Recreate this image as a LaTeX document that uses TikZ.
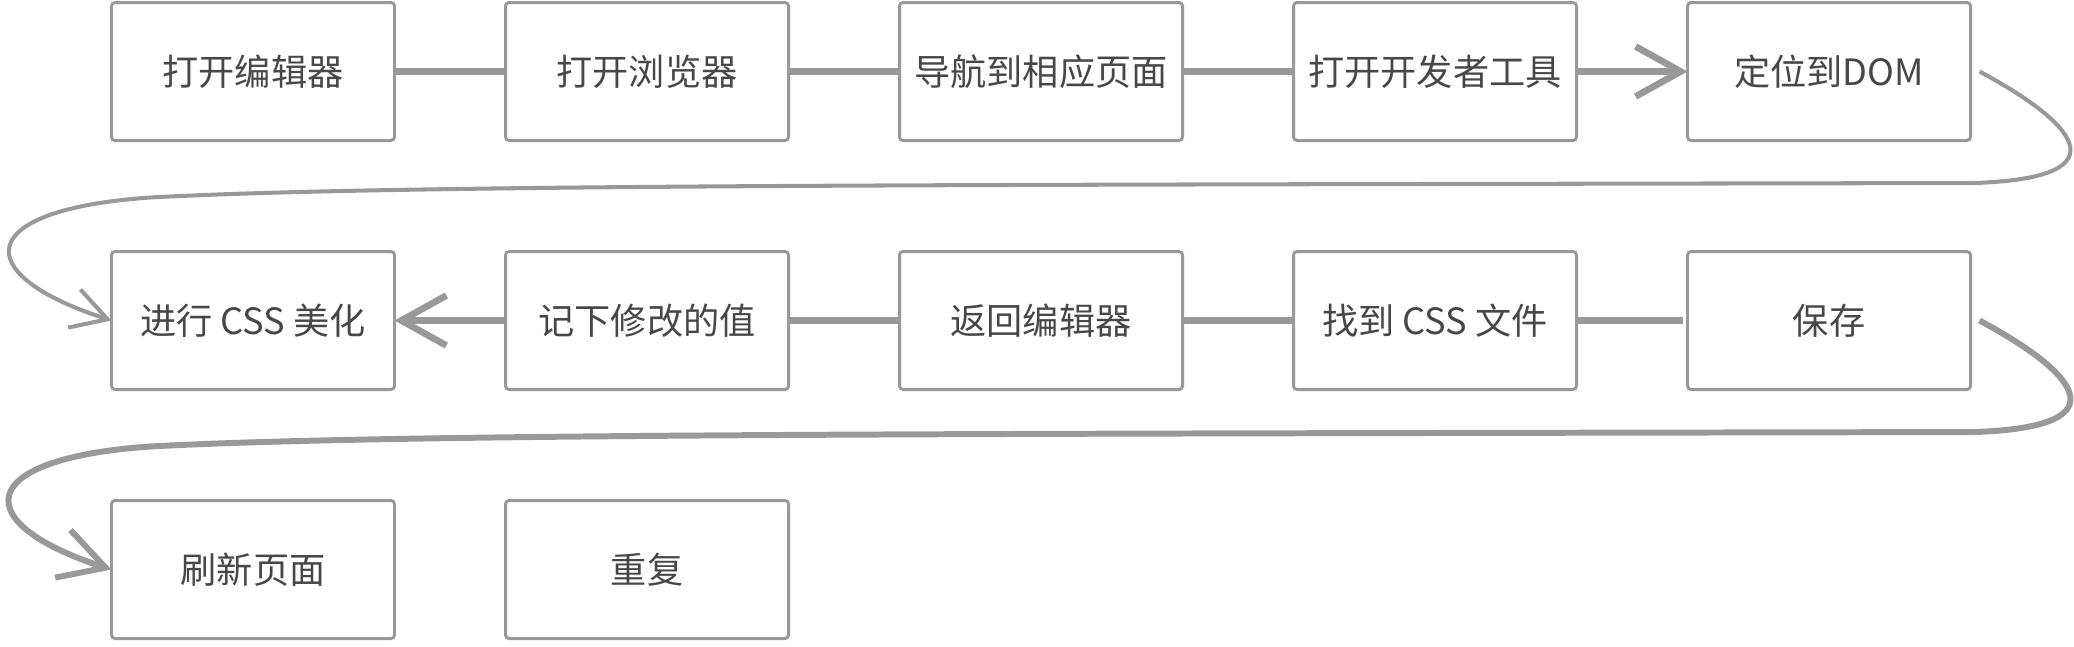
\documentclass[tikz,border=0pt]{standalone}
\usepackage{fontspec}
\setmainfont{Noto Sans CJK SC}
\usepackage{xcolor}
\usetikzlibrary{positioning, arrows.meta}
\definecolor{linegray}{HTML}{999999}
\definecolor{textgray}{HTML}{474747}

\begin{document}
\begin{tikzpicture}[
  stepbox/.style={draw=linegray, line width=1.7pt, rounded corners=2pt, minimum width=5.66cm, minimum height=2.76cm, inner sep=0pt, outer sep=0pt, align=center, font=\fontsize{20.6}{24}\selectfont, text=textgray},
  link/.style={draw=linegray, line width=3.8pt},
  arr/.style={link, -{Straight Barb[length=0.9cm, width=1cm]}},
  loopback/.style={draw=linegray, -{Straight Barb[length=0.7cm, width=0.8cm]}},
  node distance=2.22cm
]
  \useasboundingbox (0,0) rectangle (41.48,-12.92);

  % first row
  \node[stepbox, anchor=north west] (editor) at (2.23,-0.05) {打开编辑器};
  \node[stepbox, right=of editor] (browser) {打开浏览器};
  \node[stepbox, right=of browser] (navigate) {导航到相应页面};
  \node[stepbox, right=of navigate] (devtools) {打开开发者工具};
  \node[stepbox, right=of devtools] (dom) {定位到DOM};

  % second row
  \node[stepbox, below=of editor] (beautify) {进行 CSS 美化};
  \node[stepbox, right=of beautify] (record) {记下修改的值};
  \node[stepbox, right=of record] (back) {返回编辑器};
  \node[stepbox, right=of back] (cssfile) {找到 CSS 文件};
  \node[stepbox, right=of cssfile] (save) {保存};

  % third row
  \node[stepbox, below=of beautify] (refresh) {刷新页面};
  \node[stepbox, right=of refresh] (again) {重复};

  \draw[link] (editor) -- (browser);
  \draw[link] (browser) -- (navigate);
  \draw[link] (navigate) -- (devtools);
  \draw[arr] (devtools) -- (dom);

  \draw[arr] (record) -- (beautify);
  \draw[link] (record) -- (back);
  \draw[link] (back) -- (cssfile);
  \draw[link, shorten >=0.1cm] (cssfile) -- (save);

  % wrap-around curves
  \draw[loopback, line width=2.3pt] ([xshift=0.18cm]dom.east)
    .. controls (41.4,-2.4) and (42.6,-3.55) .. (39.5,-3.66)
    .. controls (20,-3.7) and (8,-3.68) .. (3.0,-3.95)
    .. controls (-0.6,-4.2) and (-0.6,-5.5) .. (beautify.west);
  \draw[loopback, line width=3.4pt, -{Straight Barb[length=0.9cm, width=1cm]}] ([xshift=0.18cm]save.east)
    .. controls (41.4,-7.38) and (42.6,-8.53) .. (39.5,-8.64)
    .. controls (20,-8.68) and (8,-8.66) .. (3.0,-8.93)
    .. controls (-0.6,-9.18) and (-0.6,-10.48) .. (refresh.west);
\end{tikzpicture}
\end{document}
